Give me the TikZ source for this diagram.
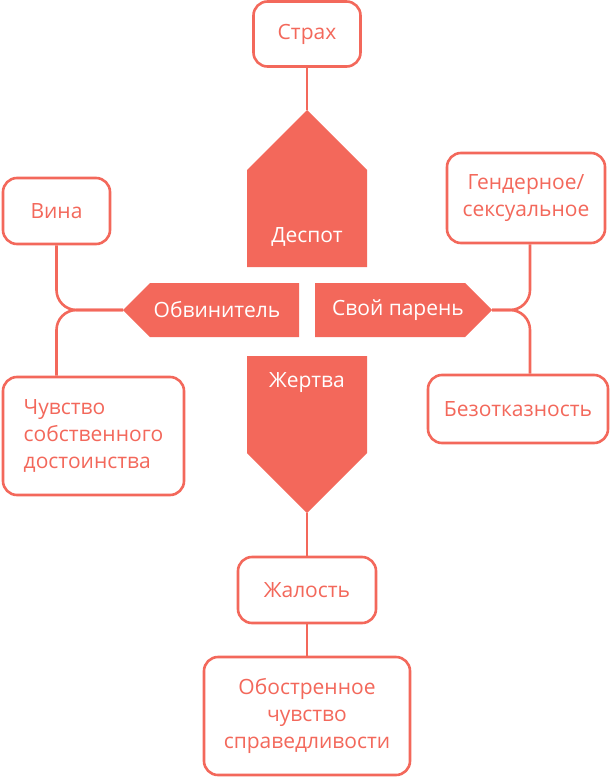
\documentclass[tikz,border=0pt]{standalone}
\usepackage{fontspec}
\setmainfont{Open Sans}
\definecolor{sal}{RGB}{243,104,91}
\begin{document}
\begin{tikzpicture}[x=1pt,y=-1pt,
  box/.style={draw=sal,line width=2.6pt,rounded corners=14pt,fill=white,text=sal,
    font=\fontsize{21}{27}\selectfont,align=center,inner sep=0pt},
  wlabel/.style={text=white,font=\fontsize{21}{27}\selectfont,inner sep=0pt},
  conn/.style={draw=sal,line width=2.6pt}]
\useasboundingbox (0,0) rectangle (612,778);
% central shapes
\fill[sal] (247,267) -- (247,170) -- (307,110) -- (367,170) -- (367,267) -- cycle;
\fill[sal] (299,283) -- (150,283) -- (123,310) -- (150,337) -- (299,337) -- cycle;
\fill[sal] (315,283) -- (465,283) -- (492,310) -- (465,337) -- (315,337) -- cycle;
\fill[sal] (247,356) -- (367,356) -- (367,453) -- (307,513) -- (247,453) -- cycle;
\coordinate (despotTip) at (307,110);
\coordinate (obvTip) at (123,310);
\coordinate (svoiTip) at (492,310);
\coordinate (jertvaTip) at (307,513);
\coordinate (rx) at (530,0);
\node[wlabel] (despot) at (307,237) {Деспот};
\node[wlabel] (obv) at (217,310) {Обвинитель};
\node[wlabel] (svoi) at (398,310) {Свой парень};
\node[wlabel] (jertva) at (307,383) {Жертва};
% boxes
\node[box,minimum width=107pt,minimum height=65pt] (strakh) at (307,34) {Страх};
\node[box,minimum width=107pt,minimum height=66pt] (vina) at (56.5,211) {Вина};
\node[box,minimum width=181pt,minimum height=118pt,align=left] (chuv) at (93.5,436) {Чувство\\собственного\\достоинства};
\node[box,minimum width=158pt,minimum height=90pt] (gender) at (526,198) {Гендерное/\\сексуальное};
\node[box,minimum width=180pt,minimum height=68pt] (bezot) at (518,409) {Безотказность};
\node[box,minimum width=138pt,minimum height=66pt] (zhal) at (307,590) {Жалость};
\node[box,minimum width=206pt,minimum height=118pt] (obostr) at (307,716) {Обостренное\\чувство\\справедливости};
% connectors
\draw[conn] (strakh.south) -- (despotTip);
\draw[conn] (jertvaTip) -- (zhal.north);
\draw[conn] (zhal.south) -- (obostr.north);
\draw[conn,rounded corners=20pt] (obvTip) -| (vina.south);
\draw[conn,rounded corners=20pt] (obvTip) -| (chuv.north -| vina.south);
\draw[conn,rounded corners=20pt] (svoiTip) -| (gender.south -| rx);
\draw[conn,rounded corners=20pt] (svoiTip) -| (bezot.north -| rx);
\end{tikzpicture}
\end{document}
